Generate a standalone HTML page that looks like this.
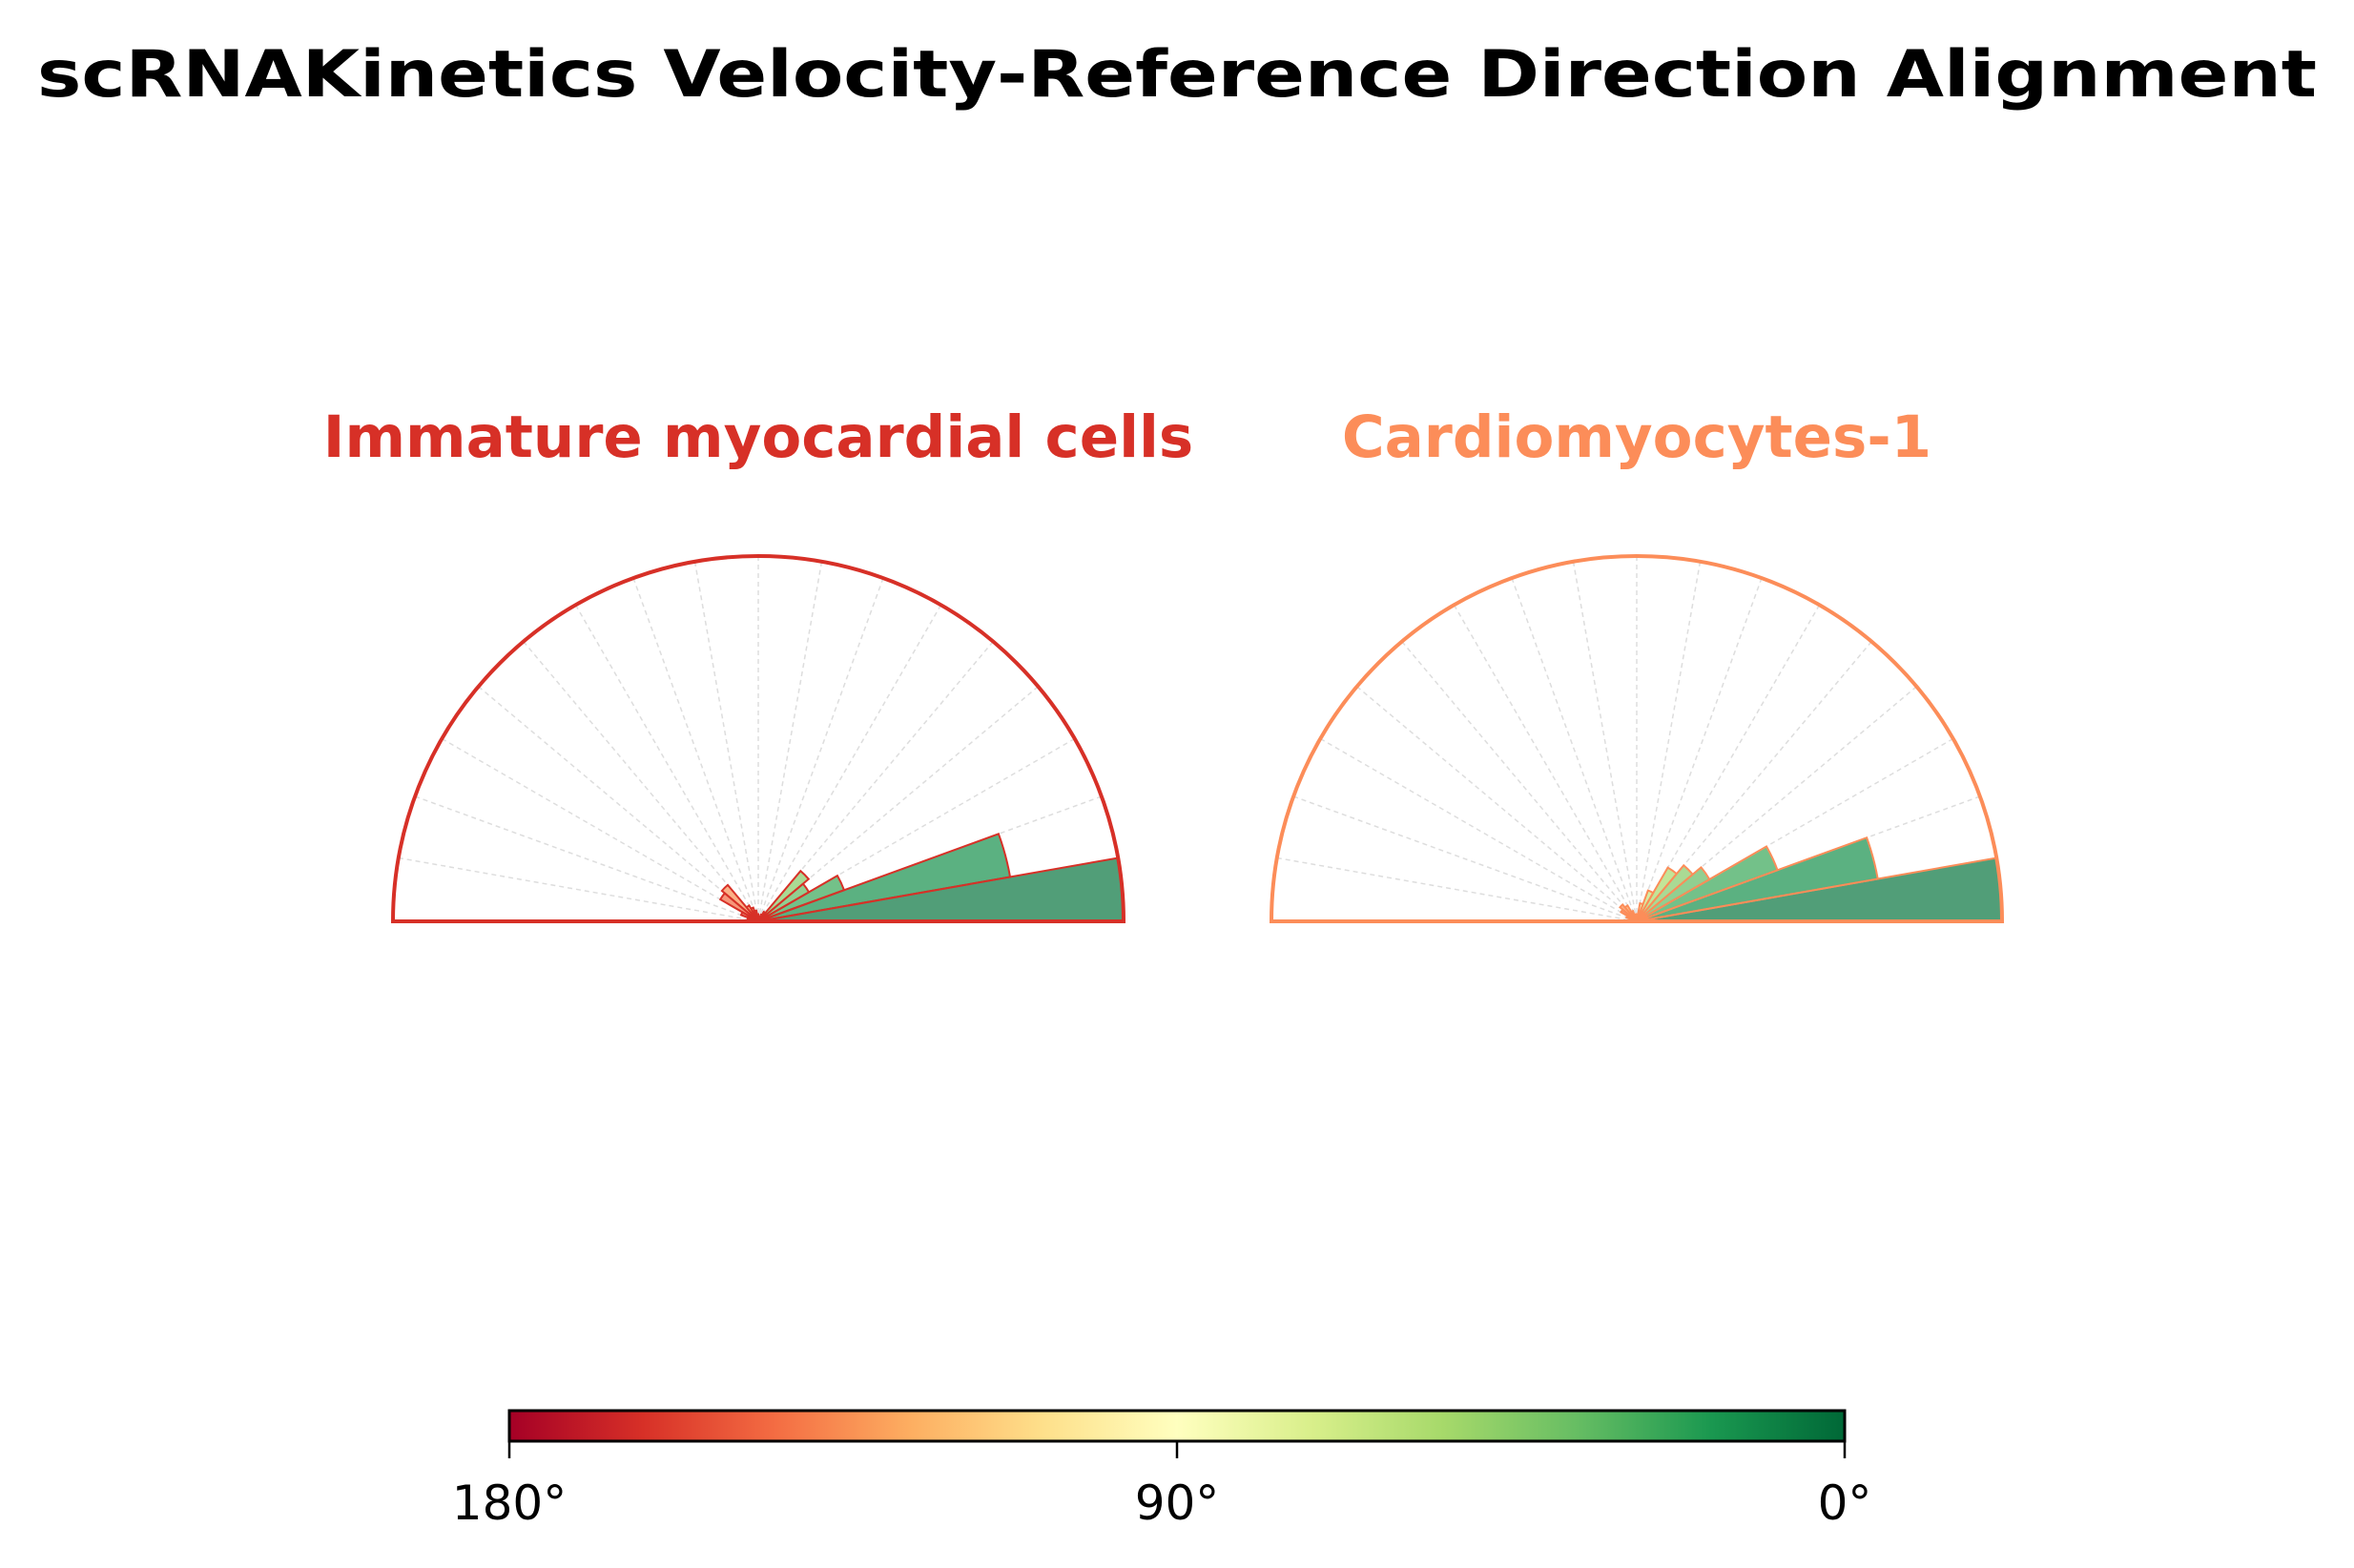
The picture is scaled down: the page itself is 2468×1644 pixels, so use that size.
<!DOCTYPE html>
<html><head><meta charset="utf-8"><style>
html,body{margin:0;padding:0;background:#fff;}
svg{display:block;font-family:"DejaVu Sans","Liberation Sans",sans-serif;}
</style></head><body>
<svg id="chart" width="2468" height="1644" viewBox="0 0 2468 1644">
<defs>
<linearGradient id="cbgrad" x1="0" x2="1" y1="0" y2="0">
<stop offset="0" stop-color="#a50026"/><stop offset="0.1" stop-color="#d73027"/><stop offset="0.2" stop-color="#f46d43"/><stop offset="0.3" stop-color="#fdae61"/><stop offset="0.4" stop-color="#fee08b"/><stop offset="0.5" stop-color="#ffffbf"/><stop offset="0.6" stop-color="#d9ef8b"/><stop offset="0.7" stop-color="#a6d96a"/><stop offset="0.8" stop-color="#66bd63"/><stop offset="0.9" stop-color="#1a9850"/><stop offset="1" stop-color="#006837"/>
</linearGradient>
</defs>
<text x="1234" y="101" text-anchor="middle" font-size="68" font-weight="bold" fill="#000" textLength="2390" lengthAdjust="spacingAndGlyphs">scRNAKinetics Velocity-Reference Direction Alignment</text>
<g id="panels"></g>
<g>
<rect x="534" y="1479" width="1400" height="32" fill="url(#cbgrad)" stroke="#000" stroke-width="3"/>
<line x1="534" y1="1511" x2="534" y2="1529" stroke="#000" stroke-width="2.5"/>
<line x1="1234" y1="1511" x2="1234" y2="1529" stroke="#000" stroke-width="2.5"/>
<line x1="1934" y1="1511" x2="1934" y2="1529" stroke="#000" stroke-width="2.5"/>
<text x="534" y="1593" font-size="50" text-anchor="middle">180°</text>
<text x="1234" y="1593" font-size="50" text-anchor="middle">90°</text>
<text x="1934" y="1593" font-size="50" text-anchor="middle">0°</text>
</g>
</svg>
<script>
const binEdgesDeg = [0,10,20,30,40,50,60,70,80,90,100,110,120,130,140,150,160,170,180];
const panelNames = ["Immature myocardial cells","Cardiomyocytes-1"];
const immatureValues = [1.0,0.70,0.25,0.16,0.18,0.03,0.02,0.01,0.01,0.02,0.03,0.04,0.05,0.13,0.12,0.05,0.03,0.02];
const cardioValues = [1.0,0.67,0.41,0.23,0.20,0.17,0.09,0.05,0.02,0.01,0.02,0.03,0.05,0.06,0.05,0.03,0.02,0.01];
const panelSeries = [immatureValues, cardioValues];
const panelColors = ["#d73027","#fc8d59"];
const panelCenters = [[795,966],[1716,966]];
const R = 383;
const cmapStops = ["#a50026","#d73027","#f46d43","#fdae61","#fee08b","#ffffbf","#d9ef8b","#a6d96a","#66bd63","#1a9850","#006837"];
function hex(h){return [1,3,5].map(i=>parseInt(h.substr(i,2),16));}
function cmap(t){
  t=Math.max(0,Math.min(1,t));const p=t*10;const i=Math.min(9,Math.floor(p));const f=p-i;
  const a=hex(cmapStops[i]),b=hex(cmapStops[i+1]);
  return "rgb("+a.map((v,k)=>Math.round(v+(b[k]-v)*f)).join(",")+")";}
const NS="http://www.w3.org/2000/svg";
const g=document.getElementById("panels");
function mk(tag,attrs){const e=document.createElementNS(NS,tag);for(const k in attrs)e.setAttribute(k,attrs[k]);return e;}
panelNames.forEach((name,p)=>{
  const [cx,cy]=panelCenters[p];const col=panelColors[p];const vals=panelSeries[p];
  const maxV=Math.max(...vals);
  const rScale=v=>v/maxV*R;
  const pt=(deg,r)=>[cx+r*Math.cos(deg*Math.PI/180),cy-r*Math.sin(deg*Math.PI/180)];
  const grp=mk("g",{});
  
  
  g.appendChild(grp);
  const t=mk("text",{x:cx,y:479,"text-anchor":"middle","font-size":"61","font-weight":"bold",fill:col});
  
  
  t.textContent=name;grp.appendChild(t);
  binEdgesDeg.forEach(d=>{ if(d===0||d===180)return;
    const [x,y]=pt(d,R);
    const l=mk("line",{x1:cx,y1:cy,x2:x,y2:y,stroke:"#ddd","stroke-width":"1.5","stroke-dasharray":"5,4"});
    
    
    grp.appendChild(l);});
  vals.forEach((v,i)=>{
    const a0=binEdgesDeg[i],a1=binEdgesDeg[i+1];const r=rScale(v);
    const [x0,y0]=pt(a0,r),[x1,y1]=pt(a1,r);
    const c=cmap(1-((a0+a1)/2)/180);
    const path=mk("path",{d:`M${cx},${cy} L${x0},${y0} A${r},${r} 0 0 0 ${x1},${y1} Z`,fill:c,"fill-opacity":"0.7",stroke:col,"stroke-width":"2"});
    
    
    grp.appendChild(path);});
  const frame=mk("path",{d:`M${cx-R},${cy} A${R},${R} 0 0 1 ${cx+R},${cy} Z`,fill:"none",stroke:col,"stroke-width":"4"});
  
  
  grp.appendChild(frame);
});
</script>
</body></html>
